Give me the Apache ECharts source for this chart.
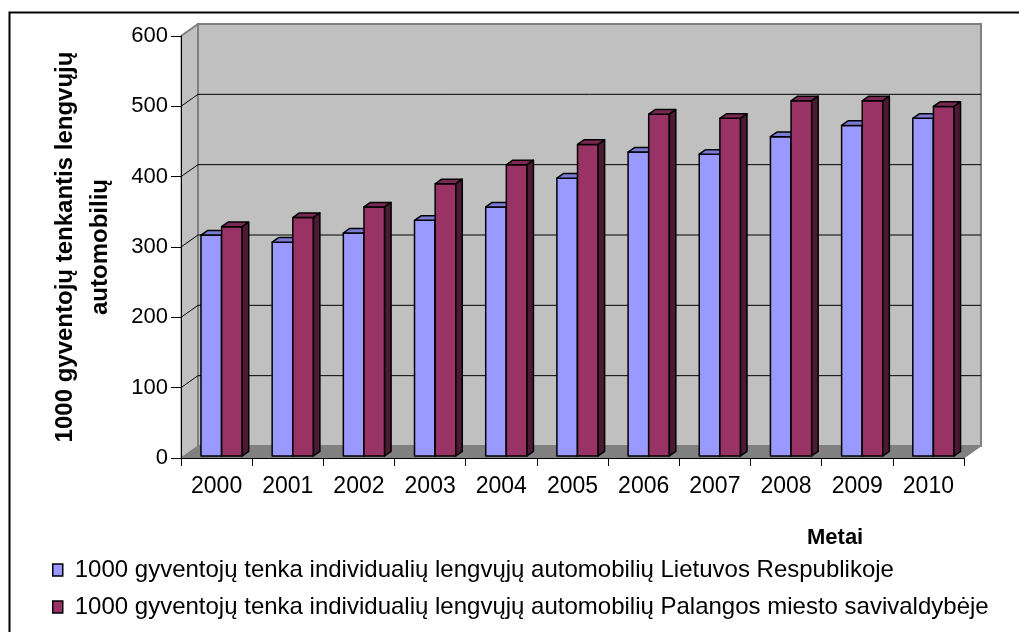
<!DOCTYPE html>
<html>
<head>
<meta charset="utf-8">
<script src="https://cdn.jsdelivr.net/npm/echarts@6/dist/echarts.min.js"></script>
<style>
  html, body { margin: 0; padding: 0; background: #ffffff; }
  #chart { width: 1019px; height: 632px; }
</style>
</head>
<body>
<div id="chart"></div>
<script>
// Years on the category axis
const years = ['2000', '2001', '2002', '2003', '2004', '2005', '2006', '2007', '2008', '2009', '2010'];

// Passenger cars per 1000 residents
const lietuva = [314, 304, 317, 335, 354, 395, 432, 429, 454, 470, 480];
const palanga = [326, 339, 354, 387, 414, 443, 486, 480, 505, 505, 497];

// Value axis ticks
const yTicks = [0, 100, 200, 300, 400, 500, 600];

const seriesNames = [
  '1000 gyventojų tenka individualių lengvųjų automobilių Lietuvos Respublikoje',
  '1000 gyventojų tenka individualių lengvųjų automobilių Palangos miesto savivaldybėje'
];

const FONT = 'Arial, "Liberation Sans", sans-serif';

// Depth of the 3D box (front plane -> back wall), in pixels
const DX = 17, DY = -12;
// Depth of the bars inside the box (fractions of the full depth)
const T0 = 0.17, T1 = 0.55;
// Horizontal placement of the bars inside one category band
const GROUP_START = 0.24, BAR_FRAC = 0.29;

const palettes = [
  { face: '#9999FF', top: '#7B7BD6', side: '#4D4D80' },
  { face: '#993366', top: '#7A2952', side: '#4D1A33' }
];

function renderWalls(params, api) {
  const cs = params.coordSys;
  const L = cs.x, R = cs.x + cs.width;
  const yMin = api.coord([0, yTicks[0]])[1];
  const yMax = api.coord([0, yTicks[yTicks.length - 1]])[1];
  const children = [];
  // left side wall
  children.push({
    type: 'polygon',
    shape: { points: [[L, yMin], [L, yMax], [L + DX, yMax + DY], [L + DX, yMin + DY]] },
    style: { fill: '#C0C0C0', stroke: '#808080', lineWidth: 1 }
  });
  // back wall
  children.push({
    type: 'polygon',
    shape: { points: [[L + DX, yMax + DY], [R + DX, yMax + DY], [R + DX, yMin + DY], [L + DX, yMin + DY]] },
    style: { fill: '#C0C0C0', stroke: '#808080', lineWidth: 2 }
  });
  // floor
  children.push({
    type: 'polygon',
    shape: { points: [[L, yMin], [R, yMin], [R + DX, yMin + DY], [L + DX, yMin + DY]] },
    style: { fill: '#808080', stroke: '#808080', lineWidth: 1 }
  });
  // grid lines on the back wall and on the side wall
  yTicks.slice(1, -1).forEach(function (v) {
    const y = api.coord([0, v])[1];
    children.push({
      type: 'line',
      shape: { x1: L + DX, y1: y + DY, x2: R + DX, y2: y + DY },
      style: { stroke: '#000000', lineWidth: 1 }
    });
    children.push({
      type: 'line',
      shape: { x1: L, y1: y, x2: L + DX, y2: y + DY },
      style: { stroke: '#000000', lineWidth: 1 }
    });
  });
  // top edge of the side wall
  children.push({
    type: 'line',
    shape: { x1: L, y1: yMax, x2: L + DX, y2: yMax + DY },
    style: { stroke: '#808080', lineWidth: 2 }
  });
  return { type: 'group', children: children };
}

function makeBarRenderer(slot) {
  const pal = palettes[slot];
  return function (params, api) {
    const idx = api.value(0);
    const val = api.value(1);
    const band = api.size([1, 0])[0];
    const base = api.coord([idx, 0]);
    const topPt = api.coord([idx, val]);
    const x = base[0] - band / 2 + band * (GROUP_START + slot * BAR_FRAC) + DX * T0;
    const w = band * BAR_FRAC;
    const yb = base[1] + DY * T0;
    const yt = topPt[1] + DY * T0;
    const dx = DX * (T1 - T0), dy = DY * (T1 - T0);
    const stroke = { stroke: '#000000', lineWidth: 1.5, lineJoin: 'round' };
    return {
      type: 'group',
      children: [
        {
          type: 'rect',
          shape: { x: x, y: yt, width: w, height: yb - yt },
          style: Object.assign({ fill: pal.face }, stroke)
        },
        {
          type: 'polygon',
          shape: { points: [[x, yt], [x + w, yt], [x + w + dx, yt + dy], [x + dx, yt + dy]] },
          style: Object.assign({ fill: pal.top }, stroke)
        },
        {
          type: 'polygon',
          shape: { points: [[x + w, yt], [x + w + dx, yt + dy], [x + w + dx, yb + dy], [x + w, yb]] },
          style: Object.assign({ fill: pal.side }, stroke)
        }
      ]
    };
  };
}

const chart = echarts.init(document.getElementById('chart'), null, { renderer: 'canvas' });

chart.setOption({
  animation: false,
  backgroundColor: '#ffffff',
  textStyle: { fontFamily: FONT, color: '#000000' },
  title: {
    text: 'Metai',
    left: 802,
    top: 522,
    textStyle: { fontFamily: FONT, fontSize: 22, fontWeight: 'bold', color: '#000000' }
  },
  legend: {
    orient: 'vertical',
    left: 52,
    top: 558,
    padding: 0,
    itemWidth: 10,
    itemHeight: 12,
    itemGap: 13,
    icon: 'rect',
    textStyle: { fontFamily: FONT, fontSize: 24, color: '#000000', padding: [0, 0, 0, 7] },
    data: [
      { name: seriesNames[0], itemStyle: { color: palettes[0].face, borderColor: '#000000', borderWidth: 1.5 } },
      { name: seriesNames[1], itemStyle: { color: palettes[1].face, borderColor: '#000000', borderWidth: 1.5 } }
    ]
  },
  grid: { left: 181, top: 36, right: 55, bottom: 174 },
  xAxis: {
    type: 'category',
    data: years,
    boundaryGap: true,
    axisLine: { lineStyle: { color: '#000000', width: 1 } },
    axisTick: { show: true, length: 8, lineStyle: { color: '#000000' } },
    axisLabel: { fontFamily: FONT, fontSize: 23, color: '#000000', margin: 17 },
    splitLine: { show: false },
    z: 5
  },
  yAxis: {
    type: 'value',
    min: 0,
    max: 600,
    interval: 100,
    name: '1000 gyventojų tenkantis lengvųjų\nautomobilių',
    nameLocation: 'middle',
    nameGap: 63,
    nameRotate: 90,
    nameTextStyle: { fontFamily: FONT, fontSize: 24, fontWeight: 'bold', color: '#000000', lineHeight: 35 },
    axisLine: { show: true, lineStyle: { color: '#000000', width: 1 } },
    axisTick: { show: true, length: 10, lineStyle: { color: '#000000' } },
    axisLabel: { fontFamily: FONT, fontSize: 22, color: '#000000', margin: 13 },
    splitLine: { show: false },
    z: 5
  },
  graphic: [
    {
      type: 'rect',
      left: 7,
      top: 10,
      shape: { width: 1040, height: 650 },
      style: { fill: 'none', stroke: '#000000', lineWidth: 2 },
      silent: true
    }
  ],
  series: [
    {
      type: 'custom',
      name: 'walls',
      renderItem: renderWalls,
      data: [[0, 0]],
      z: 1,
      silent: true
    },
    {
      type: 'custom',
      name: seriesNames[0],
      renderItem: makeBarRenderer(0),
      itemStyle: { color: palettes[0].face },
      data: years.map(function (y, i) { return [i, lietuva[i]]; }),
      z: 2
    },
    {
      type: 'custom',
      name: seriesNames[1],
      renderItem: makeBarRenderer(1),
      itemStyle: { color: palettes[1].face },
      data: years.map(function (y, i) { return [i, palanga[i]]; }),
      z: 3
    }
  ]
});
</script>
</body>
</html>
